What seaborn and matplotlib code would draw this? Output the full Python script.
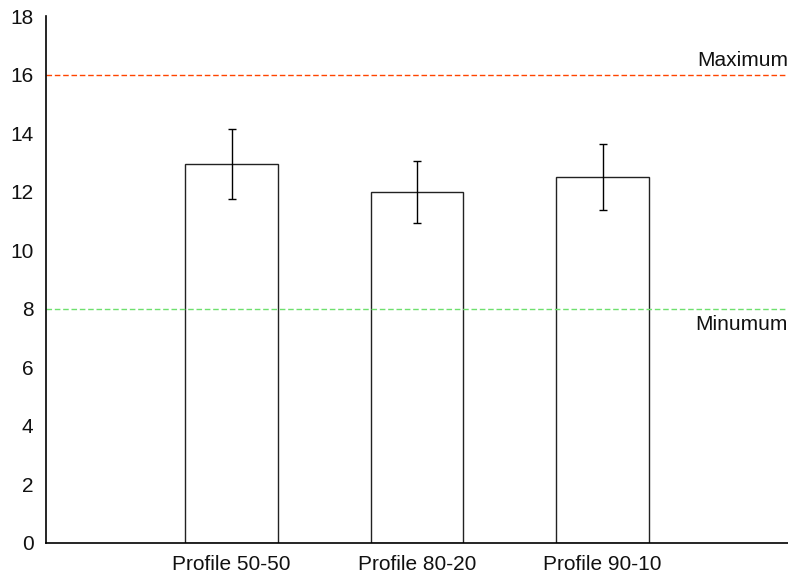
import matplotlib
matplotlib.use("Agg")
import matplotlib.pyplot as plt
import seaborn as sns
import pandas as pd

# Mean values and error half-widths per profile
profiles = ["Profile 50-50", "Profile 80-20", "Profile 90-10"]
means = [12.95, 12.0, 12.5]
errors = [1.2, 1.06, 1.14]

# Reference thresholds
maximum_level = 16
minimum_level = 8
threshold_labels = ["Maximum", "Minumum"]

y_ticks = list(range(0, 19, 2))

sns.set_theme(style="white")
plt.rcParams["font.family"] = ["Liberation Sans", "DejaVu Sans"]

df = pd.DataFrame({"profile": profiles, "value": means})

fig = plt.figure(figsize=(7.88, 5.77), dpi=100)
ax = fig.add_axes([46 / 788, 34 / 577, 742 / 788, 527 / 577])

sns.barplot(data=df, x="profile", y="value", ax=ax, width=0.5,
            facecolor="white", edgecolor="#222222", linewidth=1.0,
            errorbar=None)
ax.errorbar(range(len(profiles)), means, yerr=errors, fmt="none",
            ecolor="black", elinewidth=1.0, capsize=2.7, capthick=1.0)

ax.axhline(maximum_level, color="#ff4500", linestyle=(0, (4, 2)), linewidth=1.0)
ax.axhline(minimum_level, color="#6ee06e", linestyle=(0, (4, 2)), linewidth=1.0)
ax.text(1.0, maximum_level + 0.15, threshold_labels[0], transform=ax.get_yaxis_transform(),
        ha="right", va="bottom", fontsize=15, color="#111111")
ax.text(1.0, minimum_level - 0.2, threshold_labels[1], transform=ax.get_yaxis_transform(),
        ha="right", va="top", fontsize=15, color="#111111")

ax.set_xlim(-1, 3)
ax.set_ylim(0, 18)
ax.set_yticks(y_ticks)
ax.set_xlabel("")
ax.set_ylabel("")

for side in ("top", "right"):
    ax.spines[side].set_visible(False)
for side in ("left", "bottom"):
    ax.spines[side].set_color("black")
    ax.spines[side].set_linewidth(1.2)

ax.tick_params(axis="both", direction="in", length=5, width=1.0, color="black",
               labelsize=15, labelcolor="#111111")
ax.tick_params(axis="x", pad=9)
ax.tick_params(axis="y", pad=9)

fig.savefig("out.png", dpi=100)
